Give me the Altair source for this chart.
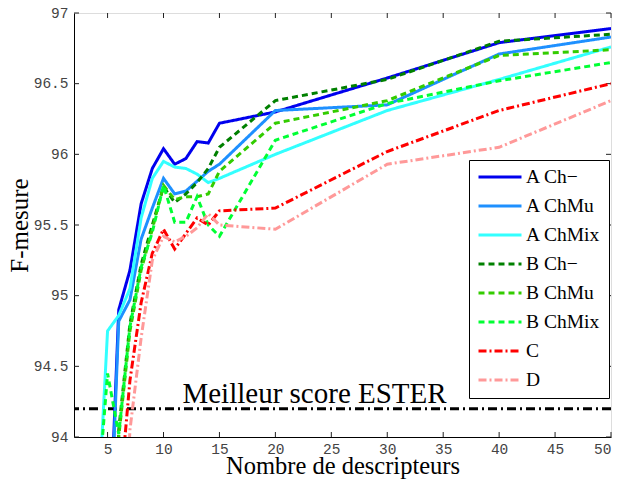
import altair as alt
import pandas as pd

xs = [4, 5, 6, 7, 8, 9, 10, 11, 12, 13, 14, 15, 20, 30, 40, 50]

series_names = ["A Ch\u2212", "A ChMu", "A ChMix", "B Ch\u2212", "B ChMu", "B ChMix", "C", "D"]

a_ch = [None, 92.9, 94.9, 95.18, 95.65, 95.9, 96.04, 95.93, 95.97, 96.09, 96.08, 96.22, 96.3, 96.54, 96.79, 96.89]
a_chmu = [None, 92.8, 94.82, 94.97, 95.4, 95.62, 95.83, 95.72, 95.74, 95.81, 95.88, 95.93, 96.31, 96.35, 96.71, 96.83]
a_chmix = [93.25, 94.75, 94.86, 95.05, 95.55, 95.83, 95.95, 95.91, 95.9, 95.86, 95.8, 95.83, 96.0, 96.31, 96.53, 96.76]
b_ch = [None, 91.0, 94.05, 94.8, 95.22, 95.5, 95.77, 95.66, 95.72, 95.8, 95.9, 96.05, 96.38, 96.53, 96.8, 96.85]
b_chmu = [None, 91.0, 94.0, 94.75, 95.18, 95.47, 95.78, 95.68, 95.7, 95.7, 95.72, 95.88, 96.22, 96.38, 96.7, 96.74]
b_chmix = [93.45, 94.45, 94.02, 94.78, 95.2, 95.45, 95.78, 95.52, 95.52, 95.7, 95.5, 95.42, 96.1, 96.36, 96.52, 96.65]
c_vals = [None, 92.0, 93.5, 94.4, 94.95, 95.3, 95.47, 95.33, 95.44, 95.55, 95.5, 95.6, 95.62, 96.02, 96.31, 96.5]
d_vals = [None, None, 92.5, 94.05, 94.7, 95.25, 95.42, 95.38, 95.42, 95.48, 95.58, 95.5, 95.47, 95.93, 96.05, 96.38]

colors = ["#0000ee", "#1e90ff", "#33ffff", "#008000", "#33cc00", "#00ff33", "#ff0000", "#ff9999"]
dashes = [[1, 0], [1, 0], [1, 0], [6, 4], [6, 4], [6, 4], [8, 3, 2, 3], [8, 3, 2, 3]]

best_score = [94.2]
best_label = ["Meilleur score ESTER"]
label_pos_x = [23.5]
label_pos_y = [94.24]

x_ticks = [5, 10, 15, 20, 25, 30, 35, 40, 45, 50]
y_ticks = [94, 94.5, 95, 95.5, 96, 96.5, 97]

all_vals = [a_ch, a_chmu, a_chmix, b_ch, b_chmu, b_chmix, c_vals, d_vals]
rows = []
for order, (name, vals) in enumerate(zip(series_names, all_vals)):
    for x, v in zip(xs, vals):
        if v is not None:
            rows.append({"n": x, "f": v, "serie": name, "ord": order})
df = pd.DataFrame(rows)

W, H = 537, 424
serif = "Liberation Serif"
mono = "Liberation Mono"

xscale = alt.Scale(domain=[2, 50], nice=False, zero=False)
yscale = alt.Scale(domain=[94, 97], nice=False, zero=False)

lines = alt.Chart(df).mark_line(strokeWidth=3, clip=True).encode(
    x=alt.X("n:Q", scale=xscale,
            axis=alt.Axis(values=x_ticks, title="Nombre de descripteurs", ticks=False,
                          labelFont=mono, labelFontSize=14.5, labelColor="#444444",
                          labelPadding=5, titleFont=serif, titleFontSize=24.5,
                          titleFontWeight="normal", titleColor="black",
                          titleBaseline="alphabetic", titleY=36,
                          domainColor="black", grid=False)),
    y=alt.Y("f:Q", scale=yscale,
            axis=alt.Axis(values=y_ticks, title="F-mesure", ticks=False, format="~g",
                          labelFont=mono, labelFontSize=14.5, labelColor="#444444",
                          labelPadding=6, titleFont=serif, titleFontSize=25,
                          titleFontWeight="normal", titleColor="black",
                          titleBaseline="alphabetic", titleX=-47, titleY=212,
                          domainColor="black", grid=False)),
    color=alt.Color("serie:N", scale=alt.Scale(domain=series_names, range=colors),
                    legend=alt.Legend(title=None, orient="none", legendX=395, legendY=147,
                                      fillColor="white", strokeColor="black", padding=8,
                                      labelFont=serif, labelFontSize=19.5, labelColor="black",
                                      symbolType="stroke", symbolSize=1849,
                                      symbolStrokeWidth=3, rowPadding=9, labelOffset=3,
                                      clipHeight=18, labelLimit=200)),
    strokeDash=alt.StrokeDash("serie:N", scale=alt.Scale(domain=series_names, range=dashes),
                              legend=alt.Legend(title=None, orient="none", legendX=395, legendY=147,
                                                clipHeight=18)),
    detail="serie:N",
    order="ord:Q",
)

ref = alt.Chart(pd.DataFrame({"f": best_score})).mark_rule(
    color="black", strokeWidth=3, strokeDash=[9, 4, 2, 4]).encode(y=alt.Y("f:Q", scale=yscale))

txt = alt.Chart(pd.DataFrame({"n": label_pos_x, "f": label_pos_y, "t": best_label})).mark_text(
    font=serif, fontSize=29, align="center", baseline="alphabetic", color="black").encode(
    x=alt.X("n:Q", scale=xscale), y=alt.Y("f:Q", scale=yscale), text="t:N")

xt = pd.DataFrame({"n": x_ticks})
yt = pd.DataFrame({"f": y_ticks})
tick_style = dict(color="#222222", strokeWidth=1)
xb = alt.Chart(xt).mark_rule(**tick_style).encode(x=alt.X("n:Q", scale=xscale), y=alt.value(H), y2=alt.value(H - 5))
xtop = alt.Chart(xt).mark_rule(**tick_style).encode(x=alt.X("n:Q", scale=xscale), y=alt.value(0), y2=alt.value(5))
yl = alt.Chart(yt).mark_rule(**tick_style).encode(y=alt.Y("f:Q", scale=yscale), x=alt.value(0), x2=alt.value(5))
yr = alt.Chart(yt).mark_rule(**tick_style).encode(y=alt.Y("f:Q", scale=yscale), x=alt.value(W), x2=alt.value(W - 5))

chart = alt.layer(xb, xtop, yl, yr, ref, txt, lines).properties(
    width=W, height=H,
    autosize=alt.AutoSizeParams(type="none"),
    padding={"left": 66, "top": 5, "right": 2, "bottom": 42},
).configure_view(stroke="black", strokeWidth=1.2).configure(background="white")

chart.save("out.html", embed_options={"renderer": "svg", "actions": False})
